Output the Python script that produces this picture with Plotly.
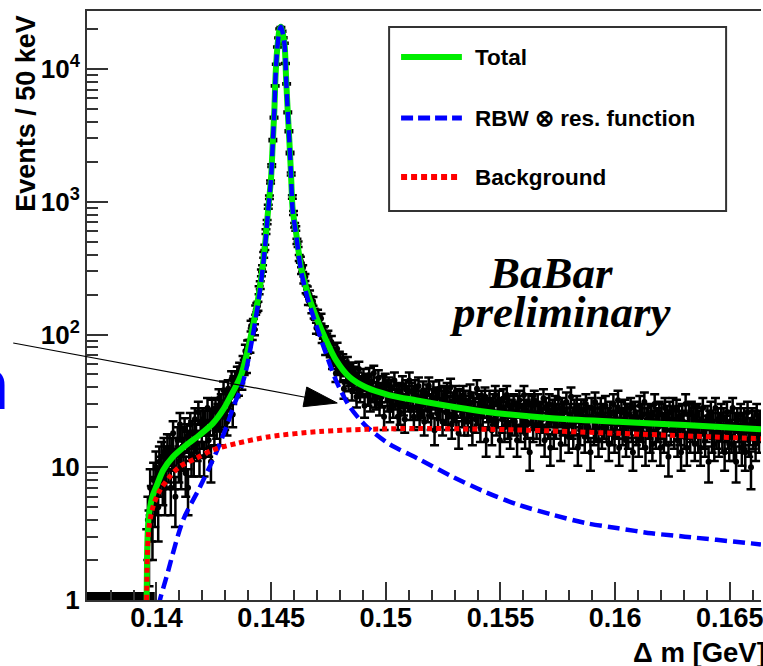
import numpy as np
import plotly.graph_objects as go

# ---------------- data ----------------
bin_width = 0.00005          # 50 keV bins
first_center = 0.139575      # first bin above the pi+ threshold
empty_first_center = 0.137025

# empty bins below threshold (0 events, drawn on the axis floor)
counts_empty = [0] * 52

# events per 50 keV (rows of 1 MeV)
counts_threshold = [2, 4, 3, 7, 5, 4, 8, 6, 10, 7, 5, 11, 9, 12, 8, 13, 7, 10, 14, 11]
counts_shoulder = [
    14, 7, 13, 18, 10, 6, 13, 16, 11, 21, 10, 16, 13, 19, 9, 17, 7, 15, 21, 12,
    18, 12, 23, 17, 15, 26, 12, 22, 18, 23, 12, 22, 18, 28, 16, 22, 11, 27, 22, 19,
    28, 21, 25, 33, 19, 30, 25, 38, 24, 32, 22, 39, 33, 30, 46, 25, 42, 46, 40, 50,
    41, 54, 50, 45, 61, 57, 75, 59, 81, 82, 82, 116, 101, 120, 109, 153, 160, 164, 216, 236,
]
counts_peak = [
    292, 315, 398, 454, 595, 702, 918, 1084, 1409, 1870, 2915, 4298, 7455, 10860, 14660,
    17160, 20030, 20600, 19250, 17180,
    15620, 11000, 7720, 4720, 3400, 2330, 1620, 1085, 825, 666, 630, 503, 479, 378, 366,
    303, 314, 258, 269, 219,
]
counts_tail = [
    215, 180, 200, 180, 157, 178, 144, 141, 112, 142, 130, 110, 132, 96, 103, 105, 79, 92, 97, 80,
    76, 88, 63, 75, 68, 51, 78, 57, 66, 51, 59, 63, 39, 56, 50, 60, 44, 48, 54, 38,
    54, 43, 50, 34, 45, 55, 37, 42, 40, 48, 29, 44, 42, 35, 49, 32, 44, 37, 51, 34,
    33, 41, 47, 30, 37, 34, 42, 24, 44, 37, 32, 41, 27, 39, 35, 29, 45, 33, 36, 24,
]
counts_flat = [
    37, 26, 35, 42, 30, 23, 39, 35, 32, 45, 28, 37, 32, 24, 39, 35, 28, 41, 25, 32,
    29, 38, 22, 33, 36, 27, 41, 30, 24, 33, 38, 19, 31, 34, 25, 39, 28, 32, 22, 35,
    34, 26, 37, 24, 29, 40, 21, 31, 27, 35, 24, 32, 18, 33, 29, 25, 35, 22, 32, 27,
    22, 29, 36, 25, 19, 31, 28, 23, 39, 26, 30, 20, 32, 24, 29, 34, 16, 27, 24, 32,
    28, 19, 30, 26, 35, 22, 25, 32, 16, 28, 23, 33, 20, 26, 35, 21, 29, 18, 27, 24,
    30, 22, 26, 16, 29, 32, 20, 25, 23, 35, 18, 27, 21, 30, 13, 26, 29, 20, 32, 24,
    21, 30, 25, 19, 26, 23, 33, 16, 28, 24, 21, 30, 14, 25, 27, 18, 29, 21, 23, 33,
    25, 15, 28, 22, 26, 19, 31, 23, 17, 25, 34, 21, 18, 27, 22, 29, 14, 25, 19, 27,
    22, 27, 17, 30, 23, 20, 24, 13, 28, 23, 19, 31, 20, 25, 16, 23, 28, 18, 25, 21,
    29, 20, 23, 15, 26, 22, 19, 30, 17, 24, 21, 32, 14, 23, 26, 19, 21, 27, 16, 25,
    18, 25, 28, 20, 13, 24, 26, 19, 22, 16, 29, 20, 25, 18, 31, 14, 23, 25, 21, 17,
    24, 15, 22, 30, 18, 23, 20, 26, 14, 25, 21, 17, 28, 19, 24, 12, 26, 19, 22, 28,
    18, 22, 27, 16, 24, 19, 13, 25, 22, 18, 30, 14, 21, 25, 17, 26, 20, 23, 15, 24,
    25, 17, 22, 14, 23, 28, 18, 16, 20, 24, 11, 22, 26, 17, 21, 15, 28, 18, 23, 16,
    21, 25, 17, 23, 13, 20, 26, 18, 15, 22, 17, 28, 15, 21, 11, 23, 20, 17, 25, 14,
    18, 23, 13, 21, 26, 16, 19, 10, 23, 18, 22, 15, 25, 20, 17, 22,
]

# fit curves (Delta m [GeV], events / 50 keV)
total_x = [0.13957, 0.13959, 0.13962, 0.13966, 0.13972, 0.13982, 0.14000, 0.14029, 0.14072,
           0.14130, 0.14188, 0.14246, 0.14290, 0.14326, 0.14350, 0.14370, 0.14391, 0.14420,
           0.14449, 0.14471, 0.14485, 0.14500, 0.14507, 0.14514, 0.14519, 0.14526, 0.14536,
           0.14543, 0.14558, 0.14565, 0.14572, 0.14580, 0.14587, 0.14594, 0.14609, 0.14630,
           0.14659, 0.14696, 0.14739, 0.14783, 0.14840, 0.14913, 0.15014, 0.15130, 0.15435,
           0.15724, 0.16014, 0.16304, 0.16636]
total_y = [1.0, 2.2, 3.3, 4.2, 5.0, 6.0, 7.2, 9.5, 12.0, 14.7, 17.5, 21.4, 27, 35, 42, 50, 68,
           114, 216, 433, 800, 1550, 2760, 4900, 8700, 13800, 19600, 20800, 15500, 8700, 4900,
           2760, 1550, 870, 580, 324, 205, 136, 91, 64, 48, 40, 35, 32, 26.2, 23.4, 22.0, 20.8,
           19.3]

signal_x = [0.14010, 0.14015, 0.14044, 0.14116, 0.14188, 0.14261, 0.14304, 0.14340, 0.14370,
            0.14391, 0.14420, 0.14449, 0.14471, 0.14485, 0.14500, 0.14507, 0.14514, 0.14519,
            0.14526, 0.14536, 0.14543, 0.14558, 0.14565, 0.14572, 0.14580, 0.14587, 0.14594,
            0.14609, 0.14630, 0.14659, 0.14696, 0.14739, 0.14783, 0.14840, 0.14913, 0.15014,
            0.15145, 0.15290, 0.15435, 0.15580, 0.15724, 0.15870, 0.16014, 0.16159, 0.16304,
            0.16594, 0.16636]
signal_y = [0.9, 1.0, 1.5, 4.0, 7.0, 13.0, 20, 30, 40, 54, 98, 200, 416, 783, 1533, 2743, 4883,
            8683, 13783, 19583, 20783, 15483, 8683, 4883, 2743, 1533, 853, 562, 306, 187, 118,
            72, 45, 29, 20.5, 15, 11.5, 8.5, 6.5, 5.2, 4.4, 3.8, 3.47, 3.18, 3.0, 2.67, 2.62]

bkg_x = [0.13957, 0.13959, 0.13961, 0.13964, 0.13968, 0.13973, 0.13987, 0.14015, 0.14058,
         0.14101, 0.14174, 0.14246, 0.14348, 0.14493, 0.14710, 0.14913, 0.15145, 0.15580,
         0.16014, 0.16636]
bkg_y = [1.0, 1.8, 2.4, 3.0, 3.6, 4.1, 5.2, 6.7, 8.5, 10.1, 11.7, 13.5, 15.1, 17.0, 18.6, 19.3,
         19.6, 19.1, 18.0, 16.4]

xtick_vals = [0.14, 0.145, 0.15, 0.155, 0.16, 0.165]
xtick_text = ["0.14", "0.145", "0.15", "0.155", "0.16", "0.165"]
ytick_vals = [1, 10, 100, 1000, 10000]
ytick_text = ["1", "10", "10<sup>2</sup>", "10<sup>3</sup>", "10<sup>4</sup>"]
legend_labels = ["Total", "RBW \u2297 res. function", "Background"]

# ---------------- build ----------------
counts = np.array(counts_threshold + counts_shoulder + counts_peak + counts_tail + counts_flat, float)
centers = first_center + bin_width * np.arange(len(counts))
errors = np.sqrt(counts)
empty_centers = empty_first_center + bin_width * np.arange(len(counts_empty))

# plot-area geometry (pixels)
L, R, T, B = 87, 763, 11, 600
W, H = R - L, B - T
def px(x):
    return (x - L) / W
def py(y):
    return (B - y) / H

fig = go.Figure()
fig.add_trace(go.Scatter(
    x=centers, y=counts, mode="markers",
    marker=dict(color="black", size=6, symbol="circle"),
    error_y=dict(type="data", array=errors, color="black", thickness=2.5, width=4.5),
    showlegend=False, hoverinfo="skip"))
fig.add_trace(go.Scatter(
    x=empty_centers, y=[1] * len(counts_empty), mode="markers",
    marker=dict(color="black", size=16, symbol="square"),
    cliponaxis=True, showlegend=False, hoverinfo="skip"))
fig.add_trace(go.Scatter(
    x=total_x, y=total_y, mode="lines",
    line=dict(color="#00ee00", width=6, shape="spline", smoothing=0.8),
    showlegend=False, hoverinfo="skip"))
fig.add_trace(go.Scatter(
    x=signal_x, y=signal_y, mode="lines",
    line=dict(color="#0000ff", width=4.5, dash="12px,6px", shape="spline", smoothing=0.8),
    showlegend=False, hoverinfo="skip"))
fig.add_trace(go.Scatter(
    x=bkg_x, y=bkg_y, mode="lines",
    line=dict(color="#ff0000", width=5, dash="5px,4px", shape="spline", smoothing=0.8),
    showlegend=False, hoverinfo="skip"))

sans = "Liberation Sans, Arial, sans-serif"

fig.update_layout(
    width=763, height=666,
    margin=dict(l=L, r=0, t=T, b=666 - B, pad=0),
    paper_bgcolor="white", plot_bgcolor="white",
    showlegend=False,
    xaxis=dict(
        range=[0.13697, 0.166361], showgrid=False, zeroline=False,
        showline=True, linecolor="#333", linewidth=2, mirror=True,
        ticks="inside", ticklen=18, tickwidth=2, tickcolor="#333",
        tickmode="array", tickvals=xtick_vals, ticktext=xtick_text,
        tickfont=dict(family=sans, size=27, color="black", weight="bold"),
        ticklabeloverflow="allow", ticklabelstandoff=-7,
        minor=dict(ticks="inside", ticklen=10, tickwidth=2, tickcolor="#333",
                   dtick=0.001, tick0=0.14, showgrid=False),
    ),
    yaxis=dict(
        type="log", range=[0, 4.437], showgrid=False, zeroline=False,
        showline=True, linecolor="#333", linewidth=2, mirror=False,
        ticks="inside", ticklen=21, tickwidth=2, tickcolor="#333",
        tickmode="array", tickvals=ytick_vals, ticktext=ytick_text,
        tickfont=dict(family=sans, size=26, color="black", weight="bold"),
        ticklabeloverflow="allow",
        minor=dict(ticks="inside", ticklen=11, tickwidth=2, tickcolor="#333",
                   tickmode="array",
                   tickvals=[m * 10 ** d for d in range(5) for m in range(2, 10)],
                   showgrid=False),
    ),
)

shapes = []
# legend box
shapes.append(dict(type="rect", xref="paper", yref="paper",
                   x0=px(390), x1=px(728), y0=py(211), y1=py(27),
                   line=dict(color="#333", width=2), fillcolor="white", layer="above"))
shapes.append(dict(type="line", xref="paper", yref="paper", x0=px(402), x1=px(463),
                   y0=py(57), y1=py(57), line=dict(color="#00ee00", width=6)))
shapes.append(dict(type="line", xref="paper", yref="paper", x0=px(402), x1=px(463),
                   y0=py(118), y1=py(118), line=dict(color="#0000ff", width=5, dash="12px,5px")))
shapes.append(dict(type="line", xref="paper", yref="paper", x0=px(402), x1=px(460),
                   y0=py(177), y1=py(177), line=dict(color="#ff0000", width=6, dash="6px,4px")))
# arrow
shapes.append(dict(type="line", xref="paper", yref="paper", x0=px(13), y0=py(343),
                   x1=px(310), y1=py(398), line=dict(color="black", width=1.2)))
shapes.append(dict(type="path", xref="paper", yref="paper",
                   path="M{},{} L{},{} L{},{} Z".format(px(338), py(403), px(303.7), py(406.7),
                                                      px(307.4), py(387.0)),
                   fillcolor="black", line=dict(color="black", width=1)))
fig.update_layout(shapes=shapes)

ann = []
lab_font = dict(family=sans, size=22.5, color="black", weight="bold")
for lab, yc in zip(legend_labels, [57.4, 119, 177.4]):
    ann.append(dict(text=lab, x=px(475), y=py(yc), xref="paper", yref="paper",
                    xanchor="left", yanchor="middle", showarrow=False, font=lab_font, borderpad=0))
serif = dict(family="Liberation Serif, Times New Roman, serif", size=45, color="black",
             style="italic", weight="bold")
ann.append(dict(text="BaBar", x=px(552), y=py(273), xref="paper", yref="paper",
                xanchor="center", yanchor="middle", showarrow=False, font=serif, borderpad=0))
ann.append(dict(text="preliminary", x=px(562), y=py(312), xref="paper", yref="paper",
                xanchor="center", yanchor="middle", showarrow=False, font=serif, borderpad=0))
ann.append(dict(text="Events / 50 keV", x=px(25.6), y=py(113), xref="paper", yref="paper",
                xanchor="center", yanchor="middle", textangle=-90, showarrow=False,
                font=dict(family=sans, size=27, color="black", weight="bold"),
                borderpad=0))
ann.append(dict(text="\u0394 m [GeV]", x=px(634), y=py(652.7), xref="paper", yref="paper",
                xanchor="left", yanchor="middle", showarrow=False,
                font=dict(family=sans, size=27.5, color="black", weight="bold"),
                borderpad=0))
ann.append(dict(text="n", x=px(10), y=py(384), xref="paper", yref="paper",
                xanchor="right", yanchor="middle", showarrow=False,
                font=dict(family=sans, size=72, color="#0000ff", weight="bold"),
                borderpad=0))
fig.update_layout(annotations=ann)

fig.write_html("out.html")
